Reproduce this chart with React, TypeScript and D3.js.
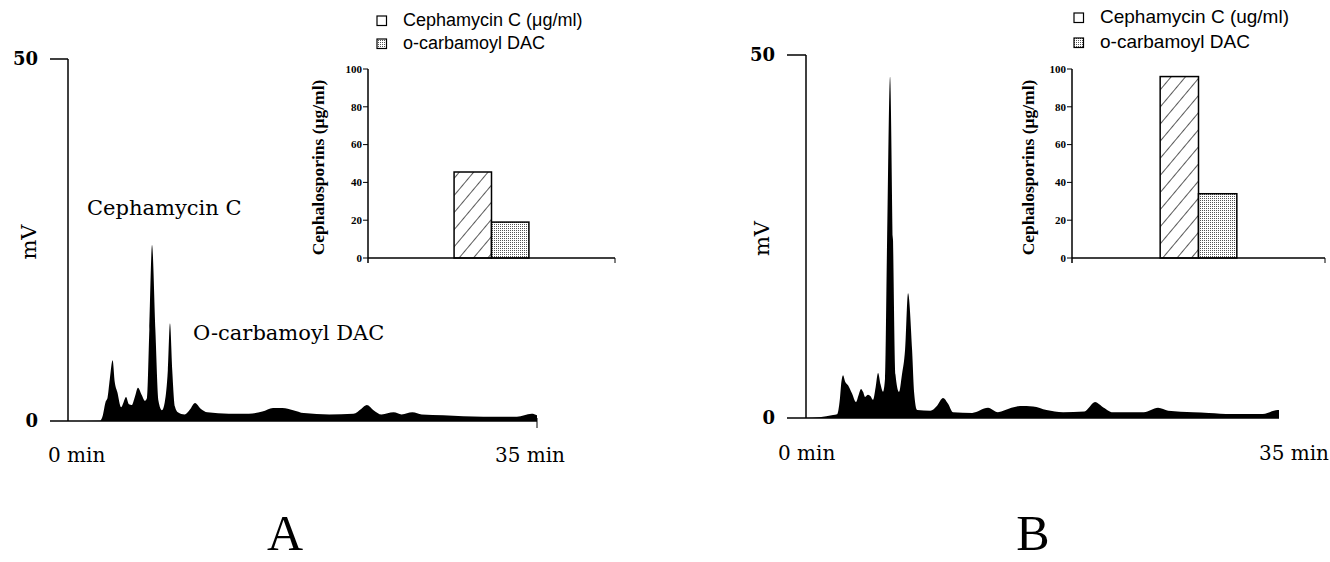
import * as d3 from 'd3';

// chromatogram traces, [minutes, mV]
const chromA: [number, number][] = [
  [0, 0], [2.4, 0.05], [2.6, 0.8], [2.8, 2.6], [2.95, 3.2], [3.12, 5.8], [3.33, 8.4], [3.48, 5.5],
  [3.68, 4.0], [3.96, 1.9], [4.15, 2.6], [4.33, 3.3], [4.55, 2.3], [4.75, 2.2], [5.0, 3.4],
  [5.22, 4.6], [5.5, 3.6], [5.75, 2.8], [5.9, 3.2], [6.07, 12.6], [6.27, 24.3], [6.52, 12.6],
  [6.75, 2.8], [7.01, 1.5], [7.22, 2.6], [7.45, 7.0], [7.61, 13.5], [7.78, 7.0], [7.98, 2.0],
  [8.2, 1.2], [8.7, 0.9], [9.1, 1.6], [9.48, 2.5], [9.9, 1.7], [10.4, 1.2], [12.0, 1.0],
  [13.5, 1.0], [14.5, 1.3], [15.3, 1.8], [16.0, 1.8], [16.8, 1.5], [17.6, 1.1], [19.5, 0.9],
  [21.3, 1.0], [21.9, 1.7], [22.3, 2.2], [22.8, 1.5], [23.4, 0.9], [24.3, 1.2], [24.9, 0.9],
  [25.7, 1.2], [26.4, 0.9], [28.0, 0.8], [31.0, 0.6], [33.5, 0.6], [34.6, 1.0], [35.0, 0.8],
];

const chromB: [number, number][] = [
  [0, 0], [1.0, 0.1], [2.0, 0.4], [2.3, 0.5], [2.5, 2.5], [2.62, 5.0], [2.74, 5.9], [2.9, 5.0],
  [3.11, 4.5], [3.4, 3.4], [3.7, 2.2], [3.9, 3.2], [4.07, 4.0], [4.22, 3.6], [4.37, 2.9],
  [4.59, 3.2], [4.78, 3.0], [4.96, 2.5], [5.15, 4.2], [5.33, 6.2], [5.52, 4.6], [5.7, 3.6],
  [5.85, 5.5], [6.0, 24.5], [6.22, 47.0], [6.44, 24.5], [6.62, 6.0], [6.88, 3.6], [7.1, 6.0],
  [7.33, 9.4], [7.55, 17.2], [7.85, 9.4], [8.0, 3.5], [8.22, 1.1], [9.2, 1.0], [9.7, 1.7],
  [10.14, 2.75], [10.5, 2.0], [10.88, 0.8], [12.3, 0.7], [13.47, 1.4], [14.2, 0.8], [15.2, 1.4],
  [15.84, 1.65], [16.8, 1.6], [17.8, 1.1], [19.02, 0.8], [20.6, 0.9], [21.39, 2.2], [21.9, 1.6],
  [22.72, 0.8], [25.0, 0.8], [26.05, 1.4], [26.8, 1.0], [28.65, 0.8], [29.8, 0.7], [31.5, 0.55],
  [33.8, 0.55], [34.9, 1.1], [35, 1.1],
];

const chromTicks = [0, 50];
const timeLabels = ['0 min', '35 min'];
const peakLabelsA = ['Cephamycin C', 'O-carbamoyl DAC'];

// inset bar charts
const insetCategories = ['Cephamycin C', 'o-carbamoyl DAC'];
const insetValuesA = [45.5, 19];
const insetValuesB = [96, 34];
const insetTicks = [0, 20, 40, 60, 80, 100];
const legendLabelsA = ['Cephamycin C (μg/ml)', 'o-carbamoyl DAC'];
const legendLabelsB = ['Cephamycin C (ug/ml)', 'o-carbamoyl DAC'];
const panelLetters = ['A', 'B'];

const SERIF = '"DejaVu Serif", serif';
const TIMES = '"Liberation Serif", serif';
const SANS = '"Liberation Sans", sans-serif';

function Chromatogram({ data, left, right, top, bottom, tickLeft, labelRight, mvX, endTick, minLeft, minRight, minY }: any) {
  const x = d3.scaleLinear().domain([0, 35]).range([left, right]);
  const y = d3.scaleLinear().domain([0, 50]).range([bottom, top]);
  const area = d3.area<[number, number]>()
    .x(d => x(d[0]))
    .y0(y(0))
    .y1(d => y(d[1]))
    .curve(d3.curveMonotoneX);

  return (
    <g>
      <path d={area(data) || ''} fill="#000" />
      <line x1={x(0)} x2={x(0)} y1={y(50)} y2={y(0)} stroke="#000" strokeWidth={1.5} />
      <line x1={tickLeft} x2={x(0)} y1={y(50)} y2={y(50)} stroke="#000" strokeWidth={1.5} />
      <line x1={tickLeft} x2={x(35)} y1={y(0)} y2={y(0)} stroke="#000" strokeWidth={1.5} />
      {endTick && <line x1={x(35)} x2={x(35)} y1={y(0) - 3} y2={y(0) + 7} stroke="#000" strokeWidth={1} />}
      {chromTicks.map(t => (
        <text key={t} x={labelRight} y={y(t)} dy="0.36em" textAnchor="end"
          fontFamily={SERIF} fontWeight="bold" fontSize={18}>{t}</text>
      ))}
      <text transform={`translate(${mvX},${(y(0) + y(50)) / 2 + 2}) rotate(-90)`} textAnchor="middle"
        fontFamily={SERIF} fontSize={21}>mV</text>
      <text x={minLeft} y={minY} fontFamily={SERIF} fontSize={20}>{timeLabels[0]}</text>
      <text x={minRight} y={minY} textAnchor="end" fontFamily={SERIF} fontSize={20}>{timeLabels[1]}</text>
    </g>
  );
}

function Inset({ values, left, right, top, bottom, titleX, legendLabels, legendX, legendY, legendSize, legendGap }: any) {
  const y = d3.scaleLinear().domain([0, 100]).range([bottom, top]);
  const x = d3.scaleBand().domain(insetCategories).range([left, right]).paddingInner(0).paddingOuter(2.3);
  const fills = ['url(#hatch)', 'url(#stipple)'];

  return (
    <g>
      {insetCategories.map((c, i) => (
        <rect key={c} x={x(c)} y={y(values[i])} width={x.bandwidth()} height={y(0) - y(values[i])}
          fill={fills[i]} stroke="#000" strokeWidth={1.5} />
      ))}
      <line x1={left} x2={left} y1={y(100)} y2={y(0) + 5} stroke="#000" strokeWidth={1.5} />
      <line x1={left} x2={right} y1={y(0)} y2={y(0)} stroke="#000" strokeWidth={1.3} />
      <line x1={right} x2={right} y1={y(0)} y2={y(0) + 5} stroke="#000" strokeWidth={1} />
      {insetTicks.map(t => (
        <g key={t}>
          <line x1={left - 5} x2={left} y1={y(t)} y2={y(t)} stroke="#000" strokeWidth={1} />
          <text x={left - 6} y={y(t)} dy="0.35em" textAnchor="end" fontFamily={TIMES}
            fontWeight="bold" fontSize={11}>{t}</text>
        </g>
      ))}
      <text transform={`translate(${titleX},${(y(0) + y(100)) / 2 + 4}) rotate(-90)`} textAnchor="middle"
        fontFamily={TIMES} fontWeight="bold" fontSize={17.5}>Cephalosporins (μg/ml)</text>
      {legendLabels.map((l: string, i: number) => (
        <g key={l}>
          <rect x={legendX} y={legendY + i * legendGap - 10} width={9.5} height={9.5}
            fill={i === 0 ? '#fff' : 'url(#stipple)'} stroke="#000" strokeWidth={1.2} />
          <text x={legendX + 26} y={legendY + i * legendGap} fontFamily={SANS} fontSize={legendSize}>{l}</text>
        </g>
      ))}
    </g>
  );
}

export default function App() {
  return (
    <div style={{ position: 'absolute', left: 0, top: 0 }}>
      <svg width={1330} height={562} style={{ display: 'block', background: '#fff' }}>
        <defs>
          <pattern id="hatch" patternUnits="userSpaceOnUse" width={11} height={11} patternTransform="rotate(40)">
            <rect width={11} height={11} fill="#fff" />
            <line x1={0} x2={0} y1={0} y2={11} stroke="#000" strokeWidth={1.3} />
          </pattern>
          <pattern id="stipple" patternUnits="userSpaceOnUse" width={2} height={2}>
            <rect width={2} height={2} fill="#fff" />
            <rect width={1} height={1} fill="#555" />
          </pattern>
        </defs>

        <Chromatogram data={chromA} left={68} right={537} top={59} bottom={421} tickLeft={50}
          labelRight={38} mvX={36} endTick minLeft={48} minRight={565} minY={462} />
        <text x={87} y={215} fontFamily={SERIF} fontSize={21}>{peakLabelsA[0]}</text>
        <text x={193} y={340} fontFamily={SERIF} fontSize={21}>{peakLabelsA[1]}</text>
        <Inset values={insetValuesA} left={368} right={615} top={69} bottom={258} titleX={324}
          legendLabels={legendLabelsA} legendX={377} legendY={26} legendSize={18} legendGap={23} />

        <Chromatogram data={chromB} left={806} right={1279} top={55} bottom={418} tickLeft={787}
          labelRight={775} mvX={769} endTick={false} minLeft={778} minRight={1329} minY={460} />
        <Inset values={insetValuesB} left={1072} right={1325} top={69} bottom={258} titleX={1034}
          legendLabels={legendLabelsB} legendX={1074} legendY={23} legendSize={19} legendGap={25} />

        <text x={285} y={550} textAnchor="middle" fontFamily={TIMES} fontSize={50}>{panelLetters[0]}</text>
        <text x={1033} y={550} textAnchor="middle" fontFamily={TIMES} fontSize={50}>{panelLetters[1]}</text>
      </svg>
    </div>
  );
}
